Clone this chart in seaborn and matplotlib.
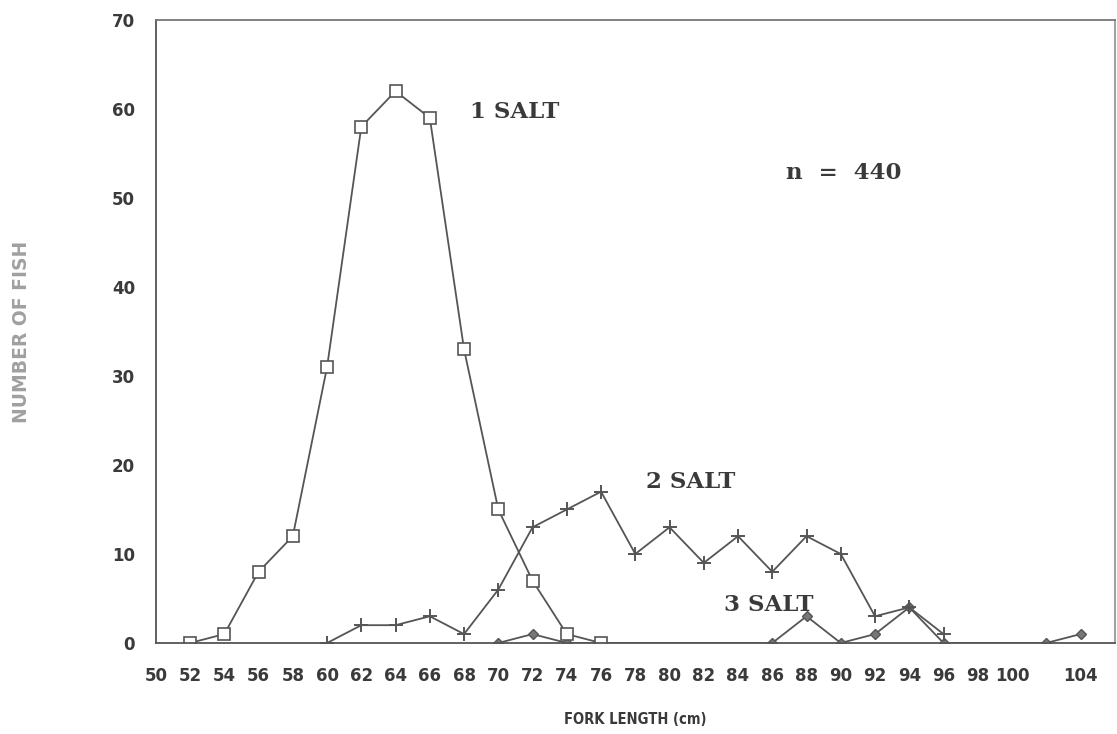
import numpy as np
import pandas as pd
import matplotlib
matplotlib.use("Agg")
import matplotlib.pyplot as plt
import seaborn as sns

# Fork length (cm) and counts per age class
len_1salt = [52, 54, 56, 58, 60, 62, 64, 66, 68, 70, 72, 74, 76]
num_1salt = [0, 1, 8, 12, 31, 58, 62, 59, 33, 15, 7, 1, 0]

len_2salt = [60, 62, 64, 66, 68, 70, 72, 74, 76, 78, 80, 82, 84, 86, 88, 90, 92, 94, 96]
num_2salt = [0, 2, 2, 3, 1, 6, 13, 15, 17, 10, 13, 9, 12, 8, 12, 10, 3, 4, 1]

len_3salt = [70, 72, 74, 86, 88, 90, 92, 94, 96, 102, 104]
num_3salt = [0, 1, 0, 0, 3, 0, 1, 4, 0, 0, 1]

x_ticks = list(range(50, 106, 2))
x_ticklabels = [str(v) if v != 102 else "" for v in x_ticks]
y_ticks = list(range(0, 80, 10))

sns.set_theme(style="white")
plt.rcParams["font.family"] = ["DejaVu Sans"]

ink = "#555555"
fig = plt.figure(figsize=(11.17, 7.34), dpi=100)
ax = fig.add_axes([0.1395, 0.124, 0.8585, 0.8488])

df1 = pd.DataFrame({"length": len_1salt, "count": num_1salt})
df2 = pd.DataFrame({"length": len_2salt, "count": num_2salt})
df3 = pd.DataFrame({"length": len_3salt, "count": num_3salt})

sns.lineplot(data=df3, x="length", y="count", ax=ax, color=ink, lw=1.3,
             marker="D", markersize=5.5, markerfacecolor="#777777",
             markeredgecolor=ink, markeredgewidth=1.0)
sns.lineplot(data=df2, x="length", y="count", ax=ax, color=ink, lw=1.3,
             marker="+", markersize=10, markeredgecolor=ink, markeredgewidth=1.4)
sns.lineplot(data=df1, x="length", y="count", ax=ax, color=ink, lw=1.3,
             marker="s", markersize=8, markerfacecolor="white",
             markeredgecolor=ink, markeredgewidth=1.2)

ax.set_xlim(50, 106)
ax.set_ylim(0, 70)
ax.set_xticks(x_ticks)
ax.set_xticklabels(x_ticklabels, fontsize=12, fontweight="heavy", color="#3a3a3a")
ax.set_yticks(y_ticks)
ax.set_yticklabels([str(v) for v in y_ticks], fontsize=12, fontweight="heavy", color="#3a3a3a")
ax.tick_params(axis="x", direction="out", length=10, width=1.2, color=ink, pad=7)
ax.tick_params(axis="y", direction="out", length=7, width=1.2, color=ink, pad=8)

for side in ["left", "bottom", "top", "right"]:
    ax.spines[side].set_color(ink)
    ax.spines[side].set_linewidth(1.3)
ax.spines["top"].set_color("#777777")
ax.spines["right"].set_color("#999999")

ax.set_xlabel("FORK LENGTH (cm)", fontsize=10.5, fontweight="bold", fontstretch="condensed",
              color="#3a3a3a", labelpad=20)
ax.set_ylabel("NUMBER OF FISH", fontsize=13.5, fontweight="bold",
              color="#a0a0a0", labelpad=58)

serif = {"family": "DejaVu Serif", "fontsize": 16.5, "fontweight": "bold", "color": "#3a3a3a"}
ax.text(68.35, 59.7, "1 SALT", va="center", ha="left", **serif)
ax.text(86.8, 52.8, "n  =  440", va="center", ha="left", **serif)
ax.text(78.6, 18.1, "2 SALT", va="center", ha="left", **serif)
ax.text(83.2, 4.3, "3 SALT", va="center", ha="left", **serif)

fig.savefig("out.png", dpi=100, facecolor="white")
